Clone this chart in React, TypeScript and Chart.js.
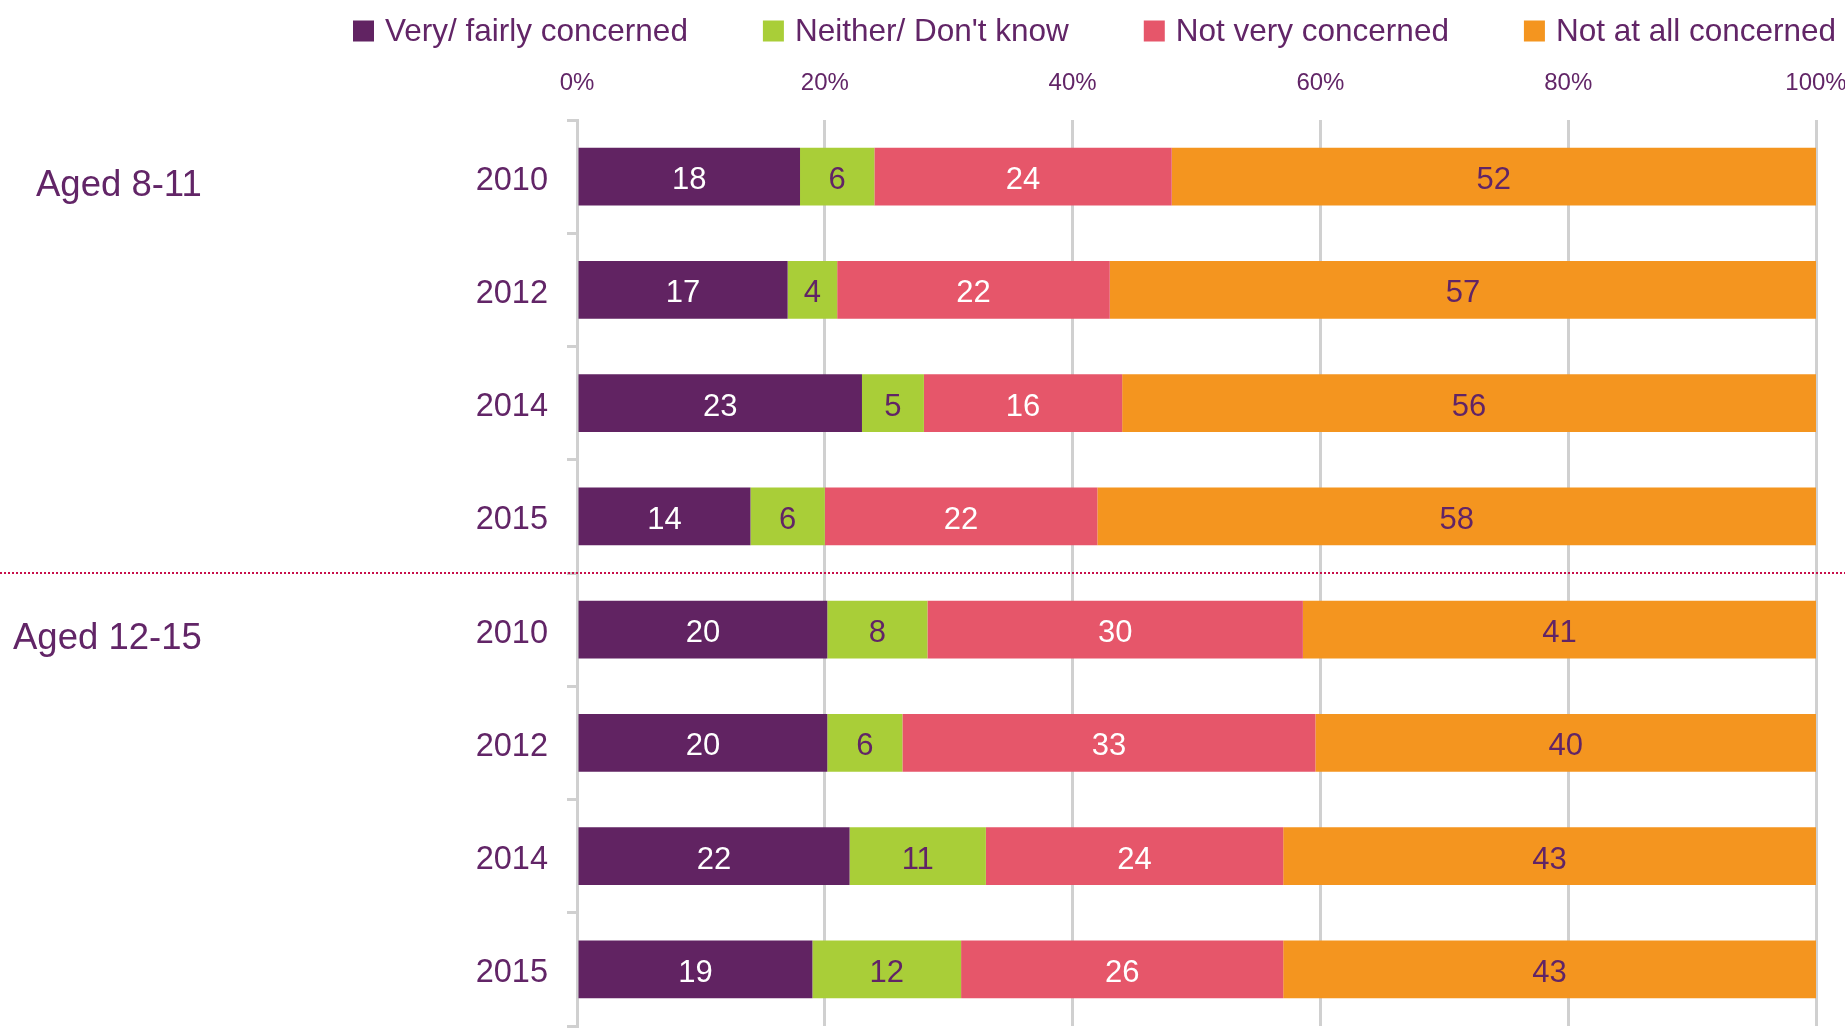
import React, { useEffect, useRef } from 'react';
import { Chart, registerables } from 'chart.js';

Chart.register(...registerables);

const categories = ['2010', '2012', '2014', '2015', '2010', '2012', '2014', '2015'];
const groupLabels = ['Aged 8-11', 'Aged 12-15'];
const groupStartIndex = [0, 4];
const seriesNames = ['Very/ fairly concerned', "Neither/ Don't know", 'Not very concerned', 'Not at all concerned'];
const veryFairly = [18, 17, 23, 14, 20, 20, 22, 19];
const neitherDK = [6, 4, 5, 6, 8, 6, 11, 12];
const notVery = [24, 22, 16, 22, 30, 33, 24, 26];
const notAtAll = [52, 57, 56, 58, 41, 40, 43, 43];
const xTicks = [0, 20, 40, 60, 80, 100];

const seriesColors = ['#612362', '#A9CE38', '#E6566A', '#F4951F'];
const labelColors = ['#FFFFFF', '#612466', '#FFFFFF', '#612466'];
const TEXT = '#622567';
const GRID = '#D0D0D0';
const FONT = '"Liberation Sans", Arial, Helvetica, sans-serif';

const allSeries = [veryFairly, neitherDK, notVery, notAtAll];
const rowTotals = categories.map((_, i) => allSeries.reduce((s, arr) => s + arr[i], 0));

const customPlugin = {
  id: 'customDraw',
  afterDatasetsDraw(chart: any) {
    const ctx = chart.ctx;
    ctx.save();
    ctx.font = `31px ${FONT}`;
    ctx.textAlign = 'center';
    ctx.textBaseline = 'middle';
    chart.data.datasets.forEach((ds: any, i: number) => {
      const meta = chart.getDatasetMeta(i);
      ctx.fillStyle = labelColors[i];
      meta.data.forEach((el: any, j: number) => {
        const p = el.getProps(['x', 'base', 'y'], true);
        ctx.fillText(String(ds.rawValues[j]), (p.x + p.base) / 2, p.y + 4);
      });
    });
    ctx.restore();
  },
  afterDraw(chart: any) {
    const ctx = chart.ctx;
    const yScale = chart.scales.y;
    ctx.save();
    // year (category) labels
    ctx.font = `32.5px ${FONT}`;
    ctx.fillStyle = TEXT;
    ctx.textAlign = 'right';
    ctx.textBaseline = 'middle';
    categories.forEach((c, i) => {
      ctx.fillText(c, yScale.right - 29, yScale.getPixelForValue(i) + 4);
    });
    // group labels
    ctx.font = `36.5px ${FONT}`;
    ctx.textAlign = 'left';
    const groupLeft = [36, 13];
    groupLabels.forEach((g, k) => {
      const y = yScale.getPixelForValue(groupStartIndex[k]) + 9;
      ctx.fillText(g, groupLeft[k], y);
    });
    // dotted separator
    const ySep = (yScale.getPixelForValue(3) + yScale.getPixelForValue(4)) / 2;
    ctx.strokeStyle = '#C8104A';
    ctx.lineWidth = 2;
    ctx.setLineDash([2, 2]);
    ctx.beginPath();
    ctx.moveTo(0, ySep);
    ctx.lineTo(chart.width, ySep);
    ctx.stroke();
    ctx.setLineDash([]);
    // legend
    ctx.font = `31.5px ${FONT}`;
    ctx.textAlign = 'left';
    ctx.textBaseline = 'middle';
    let x = 353;
    const yL = 31;
    seriesNames.forEach((name, i) => {
      ctx.fillStyle = seriesColors[i];
      ctx.fillRect(x, yL - 10.5, 21, 21);
      ctx.fillStyle = TEXT;
      ctx.fillText(name, x + 32, yL + 1);
      x += 32 + ctx.measureText(name).width + 75;
    });
    ctx.restore();
  },
};

export default function App() {
  const ref = useRef<HTMLCanvasElement>(null);

  useEffect(() => {
    if (!ref.current) return;
    const datasets = allSeries.map((arr, i) => ({
      label: seriesNames[i],
      data: arr.map((v, j) => (v / rowTotals[j]) * 100),
      rawValues: arr,
      backgroundColor: seriesColors[i],
      borderWidth: 0,
      barPercentage: 0.51,
      categoryPercentage: 1,
    }));
    const chart = new Chart(ref.current, {
      type: 'bar',
      data: { labels: categories, datasets: datasets as any },
      options: {
        indexAxis: 'y',
        responsive: false,
        animation: false,
        devicePixelRatio: 1,
        layout: { padding: { top: 0, bottom: 5, left: 0, right: 0 } },
        plugins: {
          legend: { display: false },
          tooltip: { enabled: false },
        },
        scales: {
          x: {
            position: 'top',
            stacked: true,
            min: 0,
            max: 100,
            afterBuildTicks: (s: any) => {
              s.ticks = xTicks.map((v) => ({ value: v }));
            },
            afterFit: (s: any) => {
              s.height = 120;
              s.paddingLeft = 0;
              s.paddingRight = 29;
              s.paddingTop = 0;
              s.paddingBottom = 0;
            },
            ticks: {
              callback: (v: any) => v + '%',
              color: TEXT,
              font: { family: FONT, size: 24 },
              padding: 22,
            },
            grid: { color: GRID, lineWidth: 3, drawTicks: false },
            border: { display: false },
          },
          y: {
            stacked: true,
            afterFit: (s: any) => {
              s.width = 577;
              s.paddingTop = 0;
              s.paddingBottom = 0;
              s.paddingLeft = 0;
              s.paddingRight = 0;
            },
            ticks: {
              display: false,
            },
            grid: {
              drawOnChartArea: false,
              drawTicks: true,
              tickLength: 10,
              color: GRID,
              lineWidth: 3,
            },
            border: { display: true, color: GRID, width: 3 },
          },
        },
      },
      plugins: [customPlugin],
    });
    return () => chart.destroy();
  }, []);

  return (
    <div style={{ position: 'absolute', left: 0, top: 0, width: 1845, height: 1031, background: '#fff' }}>
      <canvas ref={ref} width={1845} height={1031} style={{ display: 'block', width: 1845, height: 1031 }} />
    </div>
  );
}
